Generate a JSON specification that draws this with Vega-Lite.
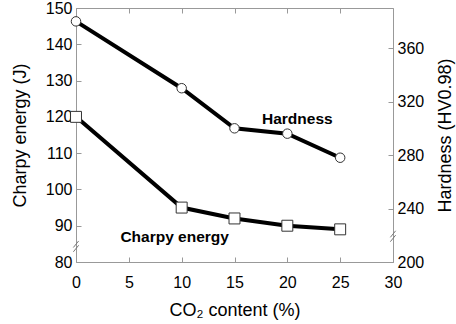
{
  "$schema": "https://vega.github.io/schema/vega-lite/v6.json",
  "width": 317,
  "height": 254,
  "autosize": {"type": "none"},
  "padding": {"left": 76, "top": 8, "right": 63, "bottom": 62},
  "background": "white",
  "config": {
    "view": {"stroke": null},
    "font": "Liberation Sans",
    "axis": {
      "domainColor": "#999999",
      "tickColor": "#999999",
      "grid": false,
      "labelFont": "Liberation Sans",
      "titleFont": "Liberation Sans",
      "labelFontSize": 16,
      "titleFontSize": 18,
      "labelColor": "black",
      "titleColor": "black",
      "titleFontWeight": "normal",
      "tickSize": -5,
      "labelBound": false,
      "labelFlush": false
    }
  },
  "datasets": {
    "charpy": [
      {"co2": 0, "v": 120},
      {"co2": 10, "v": 95},
      {"co2": 15, "v": 92},
      {"co2": 20, "v": 90},
      {"co2": 25, "v": 89}
    ],
    "hard": [
      {"co2": 0, "h": 380},
      {"co2": 10, "h": 330},
      {"co2": 15, "h": 300},
      {"co2": 20, "h": 296},
      {"co2": 25, "h": 278}
    ],
    "labels": [
      {"co2": 17.6, "v": 119.5, "t": "Hardness"},
      {"co2": 4.2, "v": 87, "t": "Charpy energy"}
    ],
    "slashes": [
      {"x1": -0.25, "x2": 0.25, "y1": 82.8, "y2": 84.6},
      {"x1": -0.25, "x2": 0.25, "y1": 84.0, "y2": 85.8},
      {"x1": 29.75, "x2": 30.25, "y1": 85.6, "y2": 87.4},
      {"x1": 29.75, "x2": 30.25, "y1": 86.8, "y2": 88.6}
    ],
    "ticks": [{"co2": 0}, {"co2": 30}]
  },
  "layer": [
    {
      "layer": [
        {
          "data": {"name": "charpy"},
          "mark": {"type": "line", "color": "black", "strokeWidth": 4},
          "encoding": {
            "x": {
              "field": "co2", "type": "quantitative",
              "scale": {"domain": [0, 30], "nice": false},
              "axis": {"values": [0, 5, 10, 15, 20, 25, 30], "title": "CO₂ content (%)", "titlePadding": 11, "labelPadding": 17, "labelOverlap": false}
            },
            "y": {
              "field": "v", "type": "quantitative",
              "scale": {"domain": [80, 150], "nice": false, "zero": false},
              "axis": {"values": [80, 90, 100, 110, 120, 130, 140, 150], "tickCount": 8, "title": "Charpy energy (J)", "labelPadding": 9, "titlePadding": 16, "labelOverlap": false}
            }
          }
        },
        {
          "data": {"name": "charpy"},
          "mark": {"type": "point", "shape": "square", "filled": true, "fill": "white", "stroke": "#333333", "strokeWidth": 1, "size": 120, "opacity": 1},
          "encoding": {
            "x": {"field": "co2", "type": "quantitative"},
            "y": {"field": "v", "type": "quantitative", "axis": {"values": [80, 90, 100, 110, 120, 130, 140, 150], "labelOverlap": false}}
          }
        },
        {
          "data": {"name": "labels"},
          "mark": {"type": "text", "align": "left", "baseline": "middle", "fontWeight": "bold", "fontSize": 15.5, "font": "Liberation Sans", "color": "black"},
          "encoding": {
            "x": {"field": "co2", "type": "quantitative"},
            "y": {"field": "v", "type": "quantitative", "axis": {"values": [80, 90, 100, 110, 120, 130, 140, 150], "labelOverlap": false}},
            "text": {"field": "t"}
          }
        },
        {
          "data": {"name": "slashes"},
          "mark": {"type": "rule", "color": "#777777", "strokeWidth": 1},
          "encoding": {
            "x": {"field": "x1", "type": "quantitative"},
            "x2": {"field": "x2"},
            "y": {"field": "y1", "type": "quantitative", "axis": {"values": [80, 90, 100, 110, 120, 130, 140, 150], "labelOverlap": false}},
            "y2": {"field": "y2"}
          }
        }
      ]
    },
    {
      "layer": [
        {
          "data": {"name": "hard"},
          "mark": {"type": "line", "color": "black", "strokeWidth": 4},
          "encoding": {
            "x": {"field": "co2", "type": "quantitative", "axis": null},
            "y": {
              "field": "h", "type": "quantitative",
              "scale": {"domain": [200, 390], "nice": false, "zero": false},
              "axis": {"orient": "right", "values": [200, 240, 280, 320, 360], "title": "Hardness (HV0.98)", "titleAngle": -90, "labelPadding": 9, "titlePadding": 31, "labelOverlap": false}
            }
          }
        },
        {
          "data": {"name": "hard"},
          "mark": {"type": "point", "shape": "circle", "filled": true, "fill": "white", "stroke": "#333333", "strokeWidth": 1, "size": 90, "opacity": 1},
          "encoding": {
            "x": {"field": "co2", "type": "quantitative", "axis": null},
            "y": {"field": "h", "type": "quantitative"}
          }
        }
      ]
    },
    {
      "data": {"name": "ticks"},
      "mark": {"type": "point", "opacity": 0},
      "encoding": {
        "x": {"field": "co2", "type": "quantitative", "axis": {"orient": "top", "values": [0, 5, 10, 15, 20, 25, 30], "labels": false, "title": null}}
      }
    }
  ],
  "resolve": {"scale": {"y": "independent"}, "axis": {"x": "independent"}}
}
